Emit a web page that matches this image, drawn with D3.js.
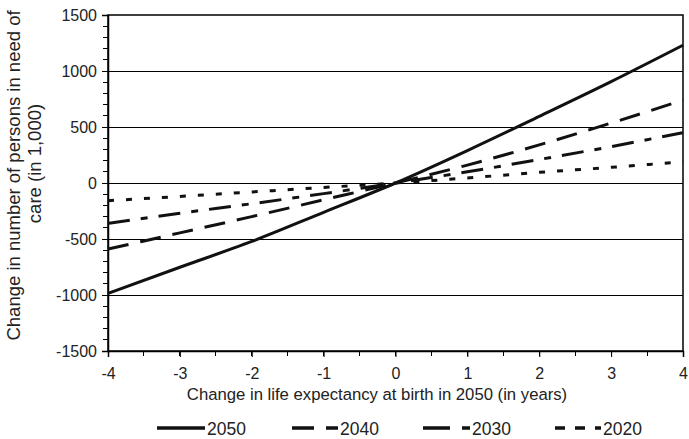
<!DOCTYPE html>
<html>
<head>
<meta charset="utf-8">
<style>
  body { margin: 0; background: #fff; }
  svg { font-family: "Liberation Sans", Arial, sans-serif; }
</style>
</head>
<body>
<svg id="svg" width="689" height="439"></svg>
<script src="https://d3js.org/d3.v7.min.js"></script>
<script>
// change in life expectancy (years)
const xs = [-4, -3, -2, -1, 0, 1, 2, 3, 4];
const series2050 = [-985, -752, -522, -262, 0, 290, 595, 905, 1230];
const series2040 = [-590, -445, -300, -150, 0, 160, 340, 535, 740];
const series2030 = [-360, -270, -185, -95, 0, 100, 210, 325, 450];
const series2020 = [-158, -120, -80, -40, 0, 45, 95, 140, 190];
const seriesNames = ['2050', '2040', '2030', '2020'];
const xTicks = [-4, -3, -2, -1, 0, 1, 2, 3, 4];
const yTicks = [-1500, -1000, -500, 0, 500, 1000, 1500];

const styles = {
  '2050': null,
  '2040': '21,12',
  '2030': '22,11,7,11',
  '2020': '6,12'
};
const legendStyles = [null, '22,12', '27,12,9,12', '10,10'];
const allSeries = [series2050, series2040, series2030, series2020];

const svg = d3.select('#svg');
const mLeft = 108, mRight = 683, mTop = 15, mBottom = 351;

const x = d3.scaleLinear().domain([-4, 4]).range([mLeft, mRight]);
const y = d3.scaleLinear().domain([-1500, 1500]).range([mBottom, mTop]);

// gridlines
svg.append('g')
  .selectAll('line')
  .data(yTicks.filter(d => d !== -1500 && d !== 1500))
  .enter().append('line')
  .attr('x1', mLeft).attr('x2', mRight)
  .attr('y1', d => y(d)).attr('y2', d => y(d))
  .attr('stroke', '#000').attr('stroke-width', 1)
  .attr('shape-rendering', 'crispEdges');

// frame
svg.append('rect')
  .attr('x', mLeft).attr('y', mTop)
  .attr('width', mRight - mLeft).attr('height', mBottom - mTop)
  .attr('fill', 'none').attr('stroke', '#000').attr('stroke-width', 1.5);

// minor ticks
const yMinor = d3.range(-1500, 1501, 100);
svg.append('g').selectAll('line').data(yMinor).enter().append('line')
  .attr('x1', mLeft - 5).attr('x2', mLeft)
  .attr('y1', d => y(d)).attr('y2', d => y(d))
  .attr('stroke', '#000').attr('shape-rendering', 'crispEdges');
const xMinor = d3.range(-4, 4.01, 0.5);
svg.append('g').selectAll('line').data(xMinor).enter().append('line')
  .attr('x1', d => x(d)).attr('x2', d => x(d))
  .attr('y1', mBottom).attr('y2', mBottom + 5)
  .attr('stroke', '#000').attr('shape-rendering', 'crispEdges');

// axes
const fmt = d => String(d);
const yAxis = d3.axisLeft(y).tickValues(yTicks).tickFormat(fmt).tickSize(6).tickPadding(5);
const gy = svg.append('g').attr('transform', `translate(${mLeft},0)`).call(yAxis);
const xAxis = d3.axisBottom(x).tickValues(xTicks).tickFormat(fmt).tickSize(6).tickPadding(11);
const gx = svg.append('g').attr('transform', `translate(0,${mBottom})`).call(xAxis);
[gy, gx].forEach(g => {
  g.select('.domain').attr('stroke-width', 1.5);
  g.selectAll('text').attr('font-size', 16).attr('fill', '#222')
    .attr('font-family', '"Liberation Sans", Arial, sans-serif');
});

// lines
const line = d3.line().x((d, i) => x(xs[i])).y(d => y(d)).curve(d3.curveMonotoneX);
allSeries.forEach((s, i) => {
  svg.append('path')
    .attr('d', line(s))
    .attr('fill', 'none')
    .attr('stroke', '#111')
    .attr('stroke-width', 3)
    .attr('stroke-dasharray', styles[seriesNames[i]]);
});

// axis titles
svg.append('text')
  .attr('x', 377).attr('y', 400)
  .attr('text-anchor', 'middle').attr('font-size', 16.7).attr('fill', '#222')
  .text('Change in life expectancy at birth in 2050 (in years)');

svg.append('text')
  .attr('transform', 'translate(20,175.5) rotate(-90)')
  .attr('text-anchor', 'middle').attr('font-size', 18.5).attr('fill', '#222')
  .text('Change in number of persons in need of');
svg.append('text')
  .attr('transform', 'translate(41,163.5) rotate(-90)')
  .attr('text-anchor', 'middle').attr('font-size', 18.5).attr('fill', '#222')
  .text('care (in 1,000)');

// legend
const legendX = [157, 292, 423, 555];
const legendW = [48, 46, 47, 46];
const lg = svg.append('g');
seriesNames.forEach((name, i) => {
  lg.append('line')
    .attr('x1', legendX[i]).attr('x2', legendX[i] + legendW[i])
    .attr('y1', 428).attr('y2', 428)
    .attr('stroke', '#111').attr('stroke-width', 3.5)
    .attr('stroke-dasharray', legendStyles[i]);
  lg.append('text')
    .attr('x', legendX[i] + legendW[i] + 2).attr('y', 434.5)
    .attr('font-size', 17.5).attr('fill', '#222')
    .text(name);
});
</script>
</body>
</html>
